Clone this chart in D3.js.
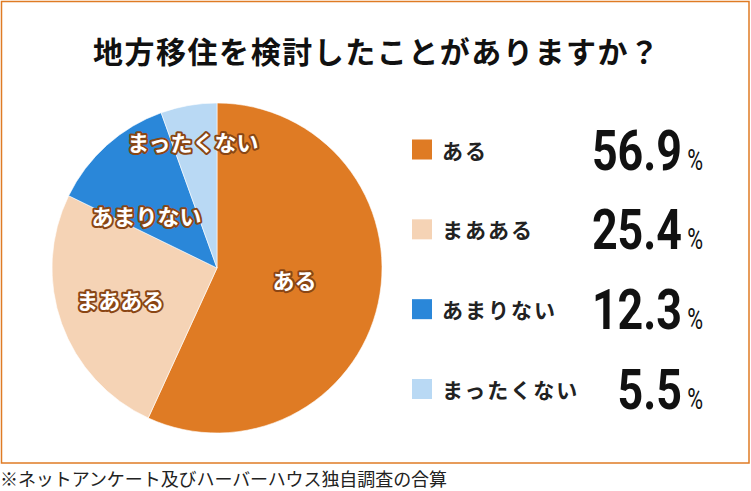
<!DOCTYPE html>
<html>
<head>
<meta charset="utf-8">
<script src="https://cdn.jsdelivr.net/npm/d3@7"></script>
<style>
  html, body { margin: 0; padding: 0; background: #fff; }
  svg { display: block; }
</style>
</head>
<body>
<svg id="chart"></svg>
<script>
// Pie chart: 地方移住を検討したことがありますか？
const categories = ['ある', 'まあある', 'あまりない', 'まったくない'];
const values = [56.9, 25.4, 12.3, 5.5];
const valueLabels = ['56.9', '25.4', '12.3', '5.5'];
const colors = ['#df7b24', '#f5d3b5', '#2a87d9', '#b9d9f4'];

const titleText = '地方移住を検討したことがありますか？';
const noteText = '※ネットアンケート及びハーバーハウス独自調査の合算';

// label placement inside slices (fraction of radius, pixel nudge)
const labelRadius = [0.48, 0.61, 0.53, 0.78];
const labelNudge = [[0, -6], [-2, -3], [-12, 12], [-2, 0]];

const W = 751, H = 491;
const cx = 217, cy = 268, R = 165;

const svg = d3.select('#chart').attr('width', W).attr('height', H);

// frame
svg.append('rect')
    .attr('x', 1.5).attr('y', 1.5)
    .attr('width', 747.5).attr('height', 461.5)
    .attr('fill', '#fff')
    .attr('stroke', '#df7b24')
    .attr('stroke-width', 1.5);

// title
svg.append('text')
    .attr('x', 376).attr('y', 50)
    .attr('text-anchor', 'middle')
    .attr('dominant-baseline', 'central')
    .attr('textLength', 566)
    .attr('lengthAdjust', 'spacing')
    .style('font-family', '"Noto Sans CJK JP", sans-serif')
    .style('font-weight', 700)
    .style('font-size', '30px')
    .attr('fill', '#111')
    .text(titleText);

const data = categories.map((c, i) => ({ name: c, value: values[i], i }));

const pie = d3.pie().sort(null).value(d => d.value);
const arcs = pie(data);
const arc = d3.arc().innerRadius(0).outerRadius(R);

const g = svg.append('g').attr('transform', `translate(${cx},${cy})`);

g.selectAll('path')
    .data(arcs)
    .enter().append('path')
    .attr('d', arc)
    .attr('fill', d => colors[d.data.i])
    .attr('stroke', '#fff')
    .attr('stroke-width', 0.6);

// slice labels
g.selectAll('text.slice')
    .data(arcs)
    .enter().append('text')
    .attr('class', 'slice')
    .attr('transform', d => {
        const k = labelRadius[d.data.i] * R;
        const c = d3.arc().innerRadius(k).outerRadius(k).centroid(d);
        const n = labelNudge[d.data.i];
        return `translate(${c[0] + n[0]},${c[1] + n[1]})`;
    })
    .attr('text-anchor', 'middle')
    .attr('dominant-baseline', 'central')
    .style('font-family', '"Noto Sans CJK JP", sans-serif')
    .style('font-weight', 700)
    .style('font-size', '22px')
    .style('paint-order', 'stroke')
    .attr('fill', '#fff')
    .attr('stroke', '#8a4614')
    .attr('stroke-width', 4)
    .attr('stroke-linejoin', 'round')
    .text(d => d.data.name);

// legend
const y = d3.scalePoint().domain(categories).range([149.5, 389]);

const legend = svg.append('g');
const row = legend.selectAll('g.row')
    .data(data)
    .enter().append('g')
    .attr('class', 'row')
    .attr('transform', d => `translate(0,${y(d.name)})`);

row.append('rect')
    .attr('x', 412).attr('y', -10)
    .attr('width', 20).attr('height', 20)
    .attr('fill', d => colors[d.i]);

row.append('text')
    .attr('x', 442).attr('y', 0)
    .attr('dominant-baseline', 'central')
    .style('font-family', '"Noto Sans CJK JP", sans-serif')
    .style('font-weight', 700)
    .style('font-size', '21px')
    .style('letter-spacing', '2px')
    .attr('fill', '#222')
    .text(d => d.name);

row.append('text')
    .attr('transform', 'translate(682,20) scale(0.8,1)')
    .attr('text-anchor', 'end')
    .style('font-family', 'Roboto, sans-serif')
    .style('font-weight', 700)
    .style('font-size', '56px')
    .attr('fill', '#111')
    .text(d => valueLabels[d.i]);

row.append('text')
    .attr('transform', 'translate(703,20) scale(0.72,1)')
    .attr('text-anchor', 'end')
    .style('font-family', 'Roboto, sans-serif')
    .style('font-size', '30px')
    .attr('fill', '#111')
    .text('%');

// footnote
svg.append('text')
    .attr('x', 0).attr('y', 486)
    .style('font-family', '"Noto Sans CJK JP", sans-serif')
    .style('font-size', '18px')
    .attr('textLength', 447)
    .attr('lengthAdjust', 'spacing')
    .attr('fill', '#222')
    .text(noteText);
</script>
</body>
</html>
